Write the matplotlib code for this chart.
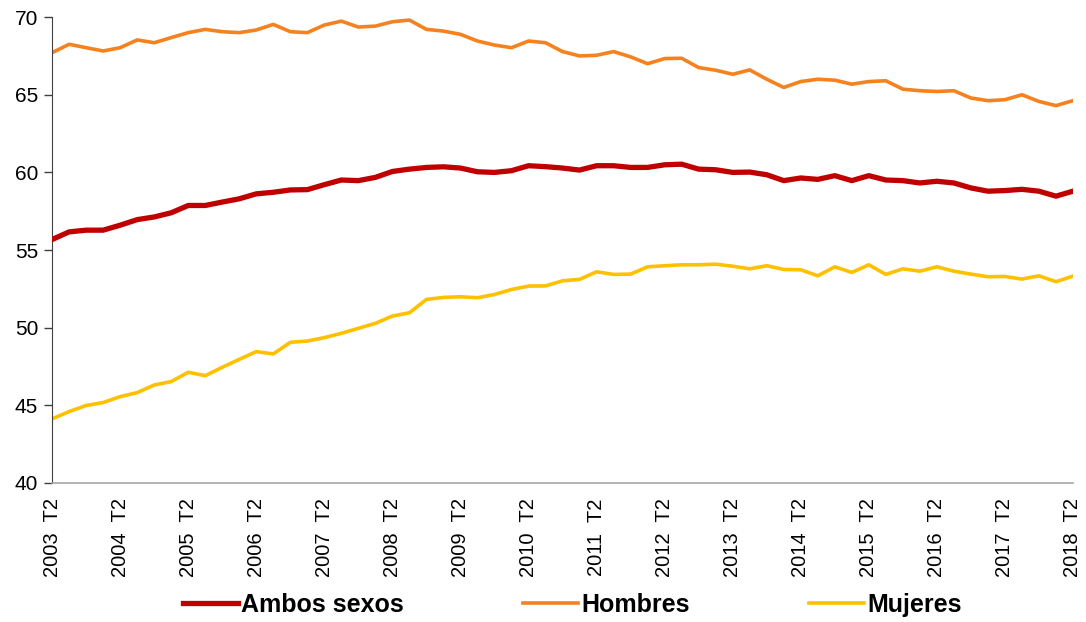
import matplotlib
matplotlib.use("Agg")
import matplotlib.pyplot as plt

plt.rcParams["font.family"] = ["Liberation Sans", "DejaVu Sans"]

years = list(range(2003, 2019))
tick_labels = [f"{y}  T2" for y in years]

ambos = [55.68, 56.17, 56.28, 56.28, 56.60, 56.96, 57.13, 57.40, 57.87, 57.87,
         58.09, 58.30, 58.62, 58.72, 58.87, 58.89, 59.21, 59.51, 59.47, 59.68,
         60.06, 60.21, 60.32, 60.36, 60.28, 60.04, 60.00, 60.11, 60.43, 60.37,
         60.28, 60.15, 60.43, 60.43, 60.32, 60.32, 60.49, 60.53, 60.21, 60.17,
         60.00, 60.02, 59.85, 59.47, 59.64, 59.55, 59.79, 59.47, 59.79, 59.51,
         59.47, 59.32, 59.43, 59.32, 59.00, 58.79, 58.83, 58.91, 58.79, 58.47,
         58.79]

hombres = [67.71, 68.25, 68.03, 67.82, 68.03, 68.53, 68.35, 68.68, 69.00, 69.21,
           69.06, 69.00, 69.17, 69.53, 69.06, 69.00, 69.49, 69.74, 69.36, 69.42,
           69.70, 69.81, 69.21, 69.10, 68.89, 68.46, 68.20, 68.03, 68.46, 68.35,
           67.78, 67.50, 67.54, 67.78, 67.44, 67.00, 67.33, 67.35, 66.75, 66.58,
           66.32, 66.60, 66.00, 65.47, 65.85, 66.00, 65.94, 65.68, 65.85, 65.90,
           65.36, 65.26, 65.21, 65.26, 64.79, 64.62, 64.68, 65.00, 64.57, 64.30,
           64.62]

mujeres = [44.13, 44.60, 44.99, 45.18, 45.56, 45.82, 46.31, 46.53, 47.13, 46.91,
           47.45, 47.96, 48.46, 48.31, 49.06, 49.14, 49.36, 49.64, 49.96, 50.28,
           50.75, 50.96, 51.82, 51.95, 51.99, 51.93, 52.14, 52.46, 52.68, 52.69,
           53.02, 53.11, 53.60, 53.43, 53.45, 53.92, 53.99, 54.05, 54.05, 54.09,
           53.96, 53.79, 53.99, 53.75, 53.73, 53.34, 53.92, 53.56, 54.05, 53.43,
           53.79, 53.64, 53.92, 53.64, 53.45, 53.28, 53.30, 53.13, 53.34, 52.96,
           53.32]

quarters = list(range(len(ambos)))

fig = plt.figure(figsize=(10.86, 6.22), dpi=100)
ax = fig.add_axes([0.048, 0.2235, 0.94, 0.749])

ax.plot(quarters, ambos, color="#C00000", linewidth=3.8, label="Ambos sexos",
        solid_joinstyle="round", zorder=3)
ax.plot(quarters, hombres, color="#F5821F", linewidth=2.6, label="Hombres",
        solid_joinstyle="round")
ax.plot(quarters, mujeres, color="#FFC000", linewidth=2.6, label="Mujeres",
        solid_joinstyle="round")

ax.set_xlim(0, len(ambos) - 1)
ax.set_ylim(40, 70)
ax.set_yticks(range(40, 71, 5))
ax.set_xticks(quarters[::4])
ax.set_xticklabels(tick_labels, rotation=90, fontsize=14.5)

ax.tick_params(axis="y", labelsize=15, length=6, width=1, color="#404040",
               direction="out", pad=4)
ax.tick_params(axis="x", length=0, pad=11)

for side in ("top", "right"):
    ax.spines[side].set_visible(False)
ax.spines["left"].set_color("#404040")
ax.spines["bottom"].set_color("#A6A6A6")
ax.spines["bottom"].set_linewidth(1.2)

fig.legend(loc="center", bbox_to_anchor=(0.527, 1 - 605 / 622), ncol=3,
           frameon=False, prop={"weight": "bold", "size": 18},
           handlelength=2.2, handletextpad=0.1, columnspacing=4.8)

fig.savefig("out.png", dpi=100)
